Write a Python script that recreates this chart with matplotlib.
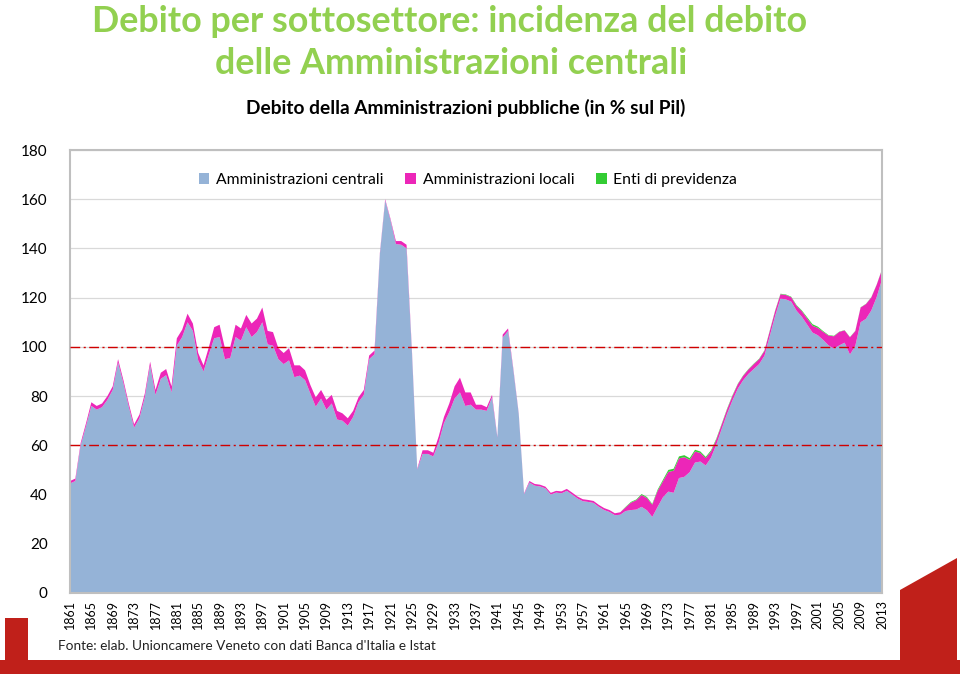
import matplotlib
matplotlib.use('Agg')
import matplotlib.pyplot as plt
from matplotlib.patches import Polygon, Rectangle, Patch

years = list(range(1861, 2014))

central = [
    44.5, 45.5, 60.0, 67.8, 76.0, 74.5, 75.5, 78.5, 82.5, 93.7,   # 1861-1870
    85.2, 75.7, 67.2, 71.0, 79.5, 92.5, 80.5, 87.0, 88.5, 81.5,   # 1871-1880
    100.5, 104.0, 110.0, 106.5, 94.5, 90.0, 97.0, 103.5, 104.0, 95.0,  # 1881-1890
    95.5, 104.0, 102.5, 108.0, 104.0, 106.0, 110.0, 101.0, 100.5, 95.0,  # 1891-1900
    93.0, 94.5, 87.7, 88.3, 86.5, 81.0, 75.7, 79.0, 74.5, 77.0,   # 1901-1910
    70.5, 70.0, 68.0, 71.5, 77.5, 80.5, 95.0, 97.0, 137.5, 159.5,  # 1911-1920
    151.5, 141.8, 141.5, 140.0, 98.2, 50.2, 56.5, 56.5, 55.5, 61.0,  # 1921-1930
    69.0, 73.5, 79.0, 81.5, 76.0, 76.5, 74.5, 74.5, 74.0, 79.5,   # 1931-1940
    63.2, 103.8, 106.5, 90.5, 72.7, 40.2, 44.9, 43.6, 43.3, 42.5,  # 1941-1950
    40.0, 40.8, 40.5, 41.5, 40.0, 38.4, 37.3, 37.0, 36.6, 35.0,   # 1951-1960
    33.7, 32.9, 31.6, 31.8, 33.3, 33.7, 33.9, 35.0, 33.6, 30.9,   # 1961-1970
    35.0, 38.9, 41.2, 40.7, 46.7, 47.2, 49.1, 53.0, 53.4, 51.8,   # 1971-1980
    55.0, 60.4, 66.7, 72.8, 78.2, 83.0, 86.4, 89.0, 91.0, 93.0,   # 1981-1990
    96.4, 104.5, 112.6, 119.6, 119.3, 118.4, 114.7, 112.2, 109.0, 105.8,  # 1991-2000
    104.7, 102.8, 100.6, 99.3, 100.6, 101.7, 96.9, 100.4, 110.0, 111.4,  # 2001-2010
    114.8, 120.2, 127.4,                                           # 2011-2013
]

local = [
    1.0, 1.0, 1.0, 1.2, 1.5, 1.5, 1.5, 1.5, 1.5, 1.3,
    1.3, 1.3, 1.3, 1.5, 1.5, 1.5, 2.0, 2.5, 2.5, 2.5,
    3.0, 3.0, 3.5, 3.0, 3.0, 2.5, 3.0, 4.5, 5.0, 4.5,
    4.5, 5.0, 5.0, 5.0, 5.5, 5.5, 6.0, 5.5, 5.5, 4.5,
    4.5, 5.0, 4.8, 4.2, 4.0, 3.5, 3.8, 3.5, 4.0, 3.5,
    3.5, 3.0, 3.0, 2.5, 2.0, 2.0, 1.5, 1.5, 0.5, 0.5,
    0.5, 1.2, 1.5, 1.5, 0.8, 0.3, 1.5, 1.5, 1.5, 2.5,
    2.5, 3.5, 5.0, 6.0, 5.5, 5.0, 2.0, 2.0, 1.5, 1.0,
    0.3, 1.2, 1.0, 0.5, 0.3, 0.3, 0.6, 0.7, 0.7, 0.7,
    0.7, 0.7, 0.8, 0.8, 0.8, 0.8, 0.8, 0.8, 0.8, 0.8,
    0.8, 0.8, 0.8, 1.0, 1.5, 3.0, 3.8, 4.8, 5.0, 5.0,
    6.5, 6.5, 8.0, 9.0, 8.0, 8.0, 5.0, 4.5, 3.5, 3.0,
    2.5, 2.0, 1.8, 1.8, 1.8, 1.8, 1.8, 1.8, 2.0, 2.0,
    2.0, 2.0, 2.0, 1.8, 1.8, 1.8, 2.0, 2.3, 2.5, 2.8,
    3.0, 3.3, 4.0, 5.0, 5.5, 5.0, 7.0, 6.0, 6.0, 6.0,
    5.3, 5.0, 4.0,
]

enti = [
    0, 0, 0, 0, 0, 0, 0, 0, 0, 0,
    0, 0, 0, 0, 0, 0, 0, 0, 0, 0,
    0, 0, 0, 0, 0, 0, 0, 0, 0, 0,
    0, 0, 0, 0, 0, 0, 0, 0, 0, 0,
    0, 0, 0, 0, 0, 0, 0, 0, 0, 0,
    0, 0, 0, 0, 0, 0, 0, 0, 0, 0,
    0, 0, 0, 0, 0, 0, 0, 0, 0, 0,
    0, 0, 0, 0, 0, 0, 0, 0, 0, 0,
    0, 0, 0, 0, 0, 0, 0, 0, 0, 0,
    0, 0, 0, 0, 0, 0, 0, 0, 0, 0,
    0, 0, 0, 0, 0.2, 0.3, 0.3, 0.4, 0.4, 0.3,
    0.5, 0.6, 0.8, 0.8, 0.8, 0.8, 0.7, 0.7, 0.6, 0.5,
    0.5, 0.4, 0.3, 0.3, 0.3, 0.2, 0.2, 0.2, 0.2, 0.2,
    0.2, 0.2, 0.2, 0.2, 0.2, 0.2, 0.3, 0.3, 0.5, 0.6,
    0.5, 0.3, 0.2, 0.2, 0.1, 0.1, 0.1, 0.1, 0.1, 0.1,
    0.1, 0.1, 0.1,
]

series_names = ["Amministrazioni centrali", "Amministrazioni locali", "Enti di previdenza"]
series_colors = ["#95B3D7", "#EC26B8", "#33CC33"]
ref_levels = [100, 60]
y_ticks = list(range(0, 181, 20))
x_ticks = list(range(1861, 2014, 4))

title_lines = ["Debito per sottosettore: incidenza del debito",
               "delle Amministrazioni centrali"]
subtitle = "Debito della Amministrazioni pubbliche (in % sul Pil)"
source = "Fonte: elab. Unioncamere Veneto con dati Banca d'Italia e Istat"

W, H = 960, 676
fig = plt.figure(figsize=(W / 100, H / 100), dpi=100)
fig.patch.set_facecolor("white")

def fx(px):
    return px / W

def fy(py):
    return 1 - py / H

# decorative red frame
red = "#C0201A"
fig.patches.append(Rectangle((fx(0), fy(674)), fx(960), 14 / H, transform=fig.transFigure,
                             facecolor=red, edgecolor="none", zorder=0))
fig.patches.append(Rectangle((fx(5), fy(674)), 23 / W, 56 / H, transform=fig.transFigure,
                             facecolor=red, edgecolor="none", zorder=0))
fig.patches.append(Polygon([(fx(900), fy(590)), (fx(957), fy(558)), (fx(957), fy(674)), (fx(900), fy(674))],
                           closed=True, transform=fig.transFigure, facecolor=red, edgecolor="none", zorder=0))

# titles
fig.text(fx(450), fy(21), title_lines[0], ha="center", va="center", fontsize=25.8,
         fontweight="bold", color="#92D050", family="Lato")
fig.text(fx(451), fy(63), title_lines[1], ha="center", va="center", fontsize=25.8,
         fontweight="bold", color="#92D050", family="Lato")
fig.text(fx(466), fy(108), subtitle, ha="center", va="center", fontsize=13.8,
         fontweight="bold", color="black", family="Lato")
fig.text(fx(58), fy(646), source, ha="left", va="center", fontsize=9.8,
         color="#222222", family="Lato")

ax = fig.add_axes([fx(70), fy(593), (882 - 70) / W, (593 - 150) / H])
ax.stackplot(years, central, local, enti, colors=series_colors, linewidth=0, zorder=2)

ax.set_xlim(1861, 2013)
ax.set_ylim(0, 180)
ax.set_yticks(y_ticks)
ax.set_yticklabels([str(v) for v in y_ticks], family="Lato", fontsize=11)
ax.set_xticks(x_ticks)
ax.set_xticklabels([str(v) for v in x_ticks], rotation=90, family="Lato", fontsize=9)
ax.tick_params(axis="both", length=0)
ax.tick_params(axis="y", pad=16)
ax.tick_params(axis="x", pad=5)
ax.grid(axis="y", color="#D9D9D9", linewidth=0.9, zorder=1)
ax.set_axisbelow(True)

for lvl in ref_levels:
    ax.axhline(lvl, color="#D00000", linewidth=1.0, dashes=(7, 2.5, 1.5, 2.5), zorder=3)

for side in ["top", "right", "left", "bottom"]:
    ax.spines[side].set_color("#BFBFBF")
    ax.spines[side].set_linewidth(1.5)

handles = [Patch(facecolor=c, edgecolor="none") for c in series_colors]
leg = ax.legend(handles, series_names, loc="center", bbox_to_anchor=(0.49, 0.932), ncol=3,
                frameon=False, handlelength=0.7, handleheight=0.7, handletextpad=0.4,
                columnspacing=1.4, prop={"family": "Lato", "size": 11.3})

fig.savefig("out.png", dpi=100, facecolor="white")
